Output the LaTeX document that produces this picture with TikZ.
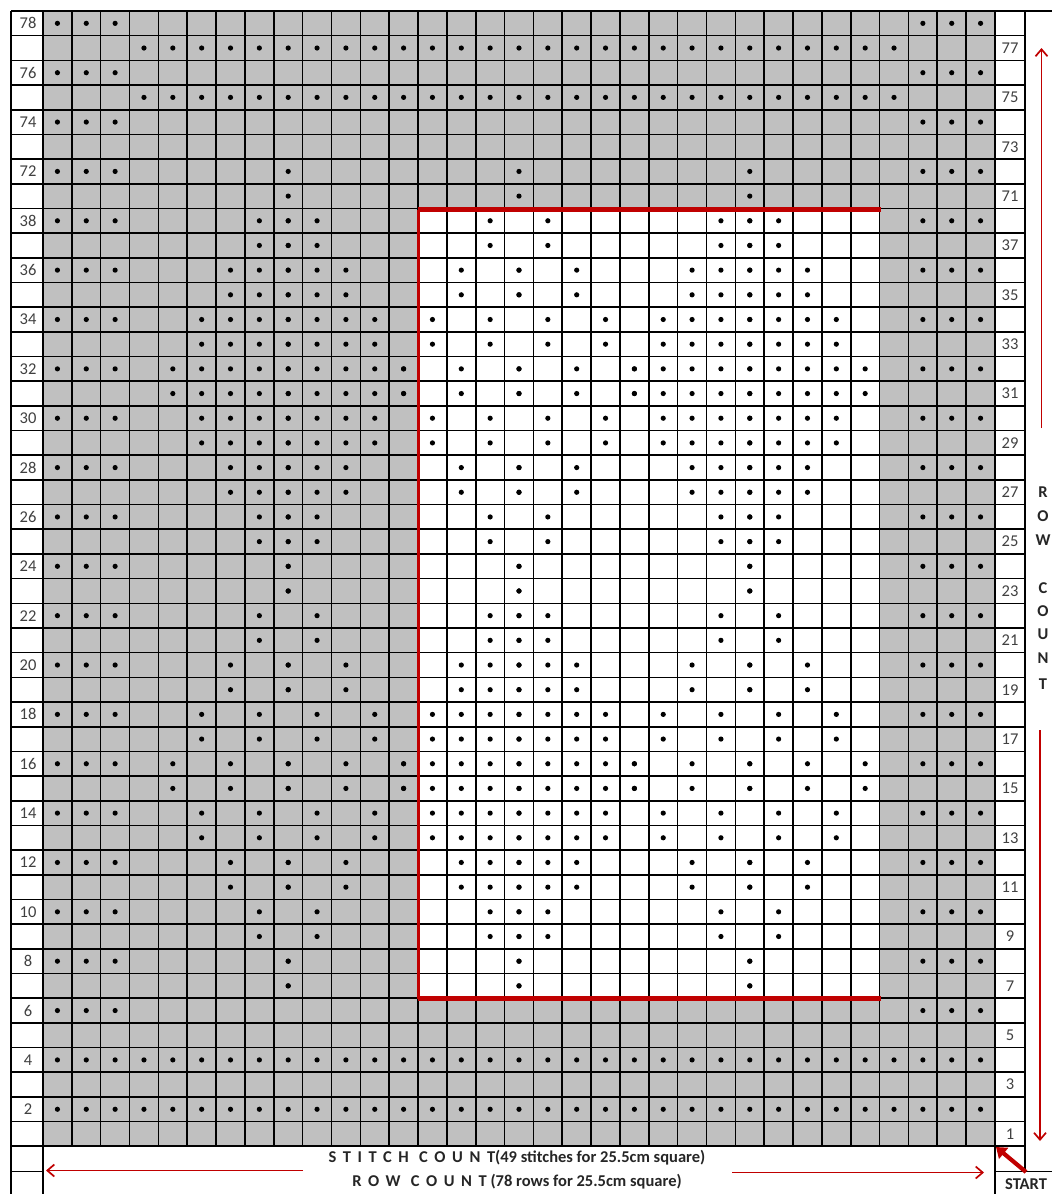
\documentclass[tikz,border=0pt]{standalone}
\usepackage{fontspec}
\setmainfont{Carlito}
\usetikzlibrary{arrows.meta}
\definecolor{cellgray}{HTML}{C0C0C0}
\definecolor{chartred}{HTML}{C00000}
\definecolor{numgray}{HTML}{404040}
\newcommand\kdot[2]{\fill[black] ({43+(#1-0.5)*28.848},{11+(#2+0.5)*24.68}) circle (2.6pt);}
\begin{document}
\begin{tikzpicture}[x=1pt,y=-1pt,
  gridline/.style={line width=1.6pt,black},
  numlbl/.style={inner sep=0pt,text=numgray,font=\fontsize{16.5}{16.5}\selectfont},
  sidelbl/.style={inner sep=0pt,text=black!85,font=\bfseries\fontsize{16.5}{16.5}\selectfont},
  countlbl/.style={inner sep=0pt,text=black!85,font=\bfseries\fontsize{16.5}{16.5}\selectfont},
  redarrow/.style={draw=chartred,line width=1.7pt,-{Straight Barb[length=7pt,width=12pt]}},
  ]
\useasboundingbox (0,0) rectangle (1052,1194);
\fill[white] (0,0) rectangle (1052,1194);
% cell backgrounds
\fill[cellgray] (43,11) rectangle (995,1146.28);
\fill[white] (418.02,208.44) rectangle (879.66,998.2);
% border dots
\foreach \j in {0,2,...,40}{\foreach \k in {1,2,3,31,32,33}{\kdot{\k}{\j}}}
\foreach \j in {42,44}{\foreach \k in {1,...,33}{\kdot{\k}{\j}}}
\foreach \j in {1,3}{\foreach \k in {4,...,30}{\kdot{\k}{\j}}}
\foreach \j in {6,7}{\foreach \k in {9,17,25}{\kdot{\k}{\j}}}
% motif rows 38..7
\foreach \n/\w/\up in {38/1/1,36/2/1,34/3/1,32/4/1,30/3/1,28/2/1,26/1/1,24/0/1,
                       22/1/0,20/2/0,18/3/0,16/4/0,14/3/0,12/2/0,10/1/0,8/0/0}{
  \pgfmathtruncatemacro\ja{46-\n}
  \pgfmathtruncatemacro\jb{47-\n}
  \foreach \d in {0,...,\w}{
    \pgfmathtruncatemacro\pty{mod(\w-\d,2)}
    \pgfmathtruncatemacro\lrok{(\up==1)||(\pty==0)}
    \pgfmathtruncatemacro\midok{(\up==0)||(\pty==0)}
    \ifnum\lrok=1
      \foreach \cc in {9,25}{\foreach \jj in {\ja,\jb}{\kdot{\cc-\d}{\jj}\kdot{\cc+\d}{\jj}}}
    \fi
    \ifnum\midok=1
      \foreach \jj in {\ja,\jb}{\kdot{17-\d}{\jj}\kdot{17+\d}{\jj}}
    \fi
  }
}
% grid lines
\foreach \k in {0,...,33}{\draw[gridline] ({43+\k*28.848},11) -- ({43+\k*28.848},1146.28);}
\draw[gridline] (11,11) -- (11,1194);
\draw[gridline] (1025,11) -- (1025,1171);
\foreach \j in {0,...,46}{\draw[gridline] (11,{11+\j*24.68}) -- (1025,{11+\j*24.68});}
\draw[gridline] (1025,11) -- (1052,11);
% bottom area lines
\draw[gridline] (43,1146.28) -- (43,1194);
\draw[gridline] (11,1171.5) -- (43,1171.5);
\draw[gridline] (995,1146.28) -- (995,1194);
\draw[gridline] (995,1171.5) -- (1052,1171.5);
% red frame of the white area
\draw[chartred,line width=4.5pt] (417.5,209.5) -- (880.5,209.5);
\draw[chartred,line width=4.5pt] (417.5,998.5) -- (880.5,998.5);
\draw[chartred,line width=2.5pt] (418.5,209.5) -- (418.5,998.5);
% row number labels
\foreach \n in {78,76,74,72}{\pgfmathtruncatemacro\j{78-\n}\node[numlbl] (L\n) at (28,{11+(\j+0.5)*24.68}) {\n};}
\foreach \n in {38,36,...,2}{\pgfmathtruncatemacro\j{46-\n}\node[numlbl] (L\n) at (28,{11+(\j+0.5)*24.68}) {\n};}
\foreach \n in {77,75,73,71}{\pgfmathtruncatemacro\j{78-\n}\node[numlbl] (R\n) at (1010,{11+(\j+0.5)*24.68}) {\n};}
\foreach \n in {37,35,...,1}{\pgfmathtruncatemacro\j{46-\n}\node[numlbl] (R\n) at (1010,{11+(\j+0.5)*24.68}) {\n};}
% ROW COUNT at right side
\foreach \t/\y [count=\i] in {R/492,O/516,W/540,C/588,O/611,U/634,N/658,T/684}{\node[sidelbl] (rc\i) at (1043,\y) {\t};}
\coordinate (upS) at (1041.5,428);
\coordinate (upE) at (1041.5,48);
\coordinate (dnS) at (1040,730);
\coordinate (dnE) at (1040,1141);
\draw[redarrow] (upS) -- (upE);
\draw[redarrow] (dnS) -- (dnE);
% bottom count texts
\node[countlbl] (stitchtxt) at (517,1158) {{\addfontfeatures{LetterSpace=40}STITCH COUNT}(49 stitches for 25.5cm square)};
\node[countlbl] (rowtxt) at (517,1181.5) {{\addfontfeatures{LetterSpace=40}ROW COUNT} (78 rows for 25.5cm square)};
\coordinate (lS) at (303,1170.5);
\coordinate (lE) at (46,1170.5);
\coordinate (rS) at (732,1172.5);
\coordinate (rE) at (984,1172.5);
\draw[redarrow] (lS) -- (lE);
\draw[redarrow] (rS) -- (rE);
% START
\node[countlbl,anchor=west] (start) at (1005,1184) {START};
\coordinate (stTail) at (1026,1172);
\coordinate (stHead) at (996,1147);
\draw[chartred,line width=4.2pt,-{Triangle[length=10pt,width=14pt]}] (stTail) -- (stHead);
\end{tikzpicture}
\end{document}
